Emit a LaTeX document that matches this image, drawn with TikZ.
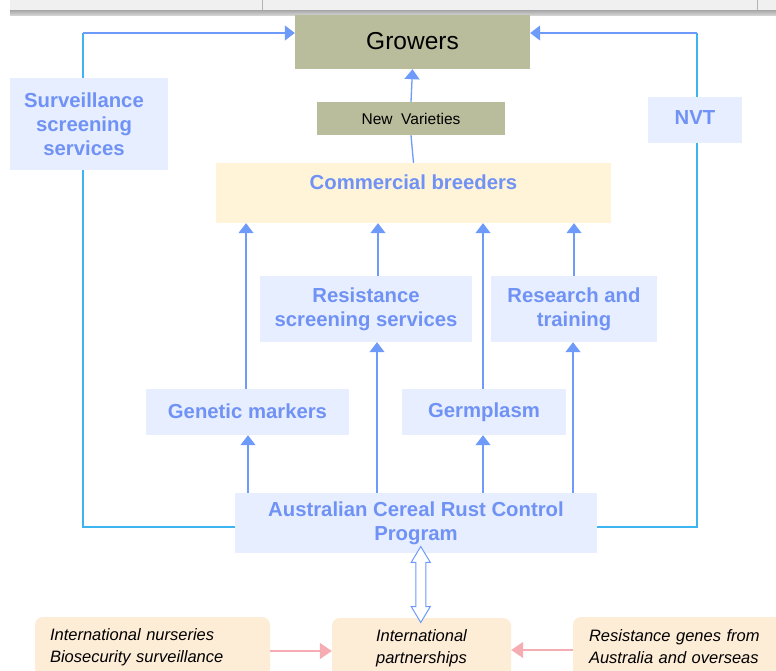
\documentclass[tikz,border=0pt]{standalone}
\usepackage{fontspec}
\setmainfont{Liberation Sans}
\usetikzlibrary{arrows.meta,shapes.arrows,calc}
\definecolor{bluetxt}{RGB}{112,146,245}
\definecolor{boxblue}{RGB}{230,238,255}
\definecolor{cream}{RGB}{255,244,216}
\definecolor{olive}{RGB}{185,189,156}
\definecolor{peach}{RGB}{253,236,214}
\definecolor{pinkln}{RGB}{245,172,178}
\definecolor{arrblue}{RGB}{110,155,250}
\definecolor{cyanln}{RGB}{60,180,240}
\tikzset{
  bbox/.style={fill=boxblue, draw=none, inner sep=0pt, align=center, text=bluetxt,
    font=\fontsize{20.3}{24}\selectfont\bfseries},
  obox/.style={fill=olive, draw=none, inner sep=0pt, align=center, text=black},
  pbox/.style={fill=peach, draw=none, rounded corners=8pt, inner sep=0pt,
    font=\fontsize{16.5}{22}\selectfont\itshape, text=black},
  arr/.style={draw=arrblue, line width=1.3pt, -{Triangle[width=15pt,length=10pt]}},
  bln/.style={draw=arrblue, line width=1.3pt},
  cln/.style={draw=cyanln, line width=1.3pt},
  parr/.style={draw=pinkln, line width=1.3pt, -{Triangle[width=16pt,length=12pt]}}
}
\begin{document}
\begin{tikzpicture}[x=1pt,y=-1pt]
\useasboundingbox (0,0) rectangle (776,670);
\clip (0,0) rectangle (776,670);
\fill[white] (0,0) rectangle (776,670);
% window chrome
\fill[gray!12] (10,0) rectangle (776,10);
\shade[top color=gray!70, bottom color=gray!35] (10,10) rectangle (776,15);
\draw[gray!60, line width=0.8pt] (262,0) -- (262,10);
\draw[gray!60, line width=0.8pt] (757,0) -- (757,10);

% nodes
\node[obox, minimum width=235pt, minimum height=54pt, font=\fontsize{24.5}{28}\selectfont] (grow) at (412.5,42) {\raisebox{1.5pt}{Growers}};
\node[obox, minimum width=188pt, minimum height=33pt, font=\fontsize{15.5}{18}\selectfont] (nv) at (411,118.5) {New\ \ Varieties};
\node[bbox, minimum width=158pt, minimum height=92pt] (surv) at (89,124) {\hspace*{-10pt}Surveillance\\\hspace*{-10pt}screening\\\hspace*{-10pt}services};
\node[bbox, minimum width=94pt, minimum height=46pt] (nvt) at (695,120) {\raisebox{4pt}{NVT}};
\node[bbox, fill=cream, minimum width=395pt, minimum height=60pt] (cb) at (413.5,193) {Commercial breeders\\[-10pt]\strut};
\node[bbox, minimum width=212pt, minimum height=66pt] (rss) at (366,309) {Resistance\\screening services};
\node[bbox, minimum width=166pt, minimum height=66pt] (rt) at (574,309) {Research and\\training};
\node[bbox, minimum width=203pt, minimum height=46pt] (gm) at (247.5,412) {\raisebox{1.5pt}{Genetic markers}};
\node[bbox, minimum width=164pt, minimum height=46pt] (germ) at (484,412) {\raisebox{1.5pt}{Germplasm}};
\node[bbox, minimum width=362pt, minimum height=60pt] (acr) at (416,523) {Australian Cereal Rust Control\\Program};

\node[pbox, minimum width=235pt, minimum height=60pt, text width=205pt, inner xsep=15pt, align=left] (inl) at (152.5,647) {International nurseries\\Biosecurity surveillance};
\node[pbox, minimum width=179pt, minimum height=60pt, align=center] (ip) at (421.5,648) {International\\partnerships};
\node[pbox, minimum width=217pt, minimum height=60pt, text width=185pt, inner xsep=16pt, align=left] (rg) at (681.5,647) {Resistance genes from\\Australia and overseas};

% top connectors
\draw[arr] (nv.north) -- (grow.south);
\draw[bln] (cb.north) -- (nv.south);

% outer loop left
\draw[cln] (83,0 |- surv.north) -- (83,33);
\draw[arr] (83,33) -- (grow.west |- 0,33);
\draw[cln] (83,0 |- surv.south) -- (83,527) -- (acr.west |- 0,527);
% outer loop right
\draw[cln] (697,0 |- nvt.north) -- (697,33);
\draw[arr] (697,33) -- (grow.east |- 0,33);
\draw[cln] (697,0 |- nvt.south) -- (697,527) -- (acr.east |- 0,527);

% middle arrows
\draw[arr] (248,0 |- acr.north) -- (248,0 |- gm.south);
\draw[arr] (246,0 |- gm.north) -- (246,0 |- cb.south);
\draw[arr] (377,0 |- acr.north) -- (377,0 |- rss.south);
\draw[arr] (378,0 |- rss.north) -- (378,0 |- cb.south);
\draw[arr] (483,0 |- acr.north) -- (483,0 |- germ.south);
\draw[arr] (483,0 |- germ.north) -- (483,0 |- cb.south);
\draw[arr] (573,0 |- acr.north) -- (573,0 |- rt.south);
\draw[arr] (574,0 |- rt.north) -- (574,0 |- cb.south);

% double arrow
\node[double arrow, draw=arrblue, fill=white, line width=1pt, rotate=90,
  minimum height=76pt, inner sep=4.5pt, double arrow head extend=4.5pt,
  double arrow tip angle=62] (dbl) at ($(acr.south)!0.5!(ip.north)+(2,-1)$) {};

% pink arrows
\draw[parr] (inl.east |- 0,651) -- (ip.west |- 0,651);
\draw[parr] (rg.west |- 0,650) -- (ip.east |- 0,650);
\end{tikzpicture}
\end{document}
